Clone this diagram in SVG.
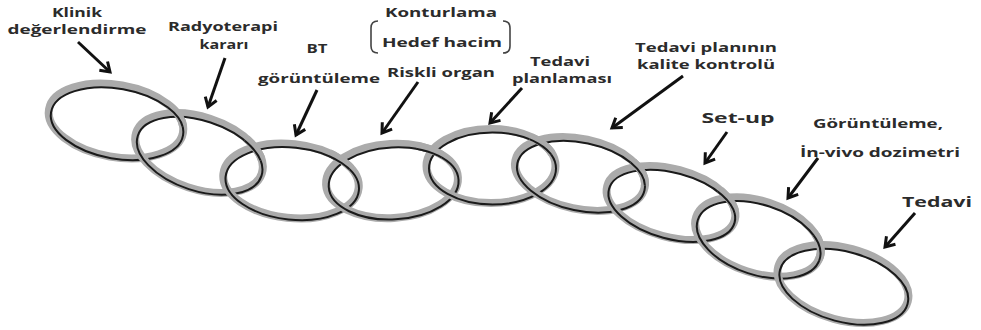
<svg xmlns="http://www.w3.org/2000/svg" width="981" height="330" viewBox="0 0 981 330">
<style>
.g{fill:none;stroke:#ababab;stroke-width:8}
.k{fill:none;stroke:#1a1a1a;stroke-width:2}
.t{font-family:"Open Sans","Liberation Sans",sans-serif;font-weight:bold;font-size:13px;fill:#2b2b2b;text-anchor:middle}
.big{font-size:15px}
.a{stroke:#111;stroke-width:3;fill:none}
</style>
<defs>
<marker id="ah" markerUnits="userSpaceOnUse" markerWidth="16" markerHeight="16" refX="12" refY="8" orient="auto" viewBox="0 0 16 16">
<path d="M3,2 L12,8 L3,14" fill="none" stroke="#111" stroke-width="3"/>
</marker>
<clipPath id="c12"><circle cx="181" cy="113" r="14"/></clipPath>
<clipPath id="c23"><circle cx="257" cy="147" r="14"/></clipPath>
<clipPath id="c34"><circle cx="343" cy="157" r="14"/></clipPath>
<clipPath id="c45"><circle cx="430" cy="150" r="14"/></clipPath>
<clipPath id="c56"><circle cx="543" cy="143" r="14"/></clipPath>
<clipPath id="c67"><circle cx="641" cy="172" r="14"/></clipPath>
<clipPath id="c78"><circle cx="729" cy="200" r="14"/></clipPath>
<clipPath id="c89"><circle cx="821" cy="247" r="14"/></clipPath>
</defs>
<rect width="981" height="330" fill="#fff"/>
<g id="rings">
<g id="ring1" transform="translate(116,121) rotate(10)"><ellipse class="g" rx="68" ry="36"/><ellipse class="k" cx="1.5" cy="2.5" rx="67" ry="35"/></g>
<g id="ring2" transform="translate(199,153) rotate(18)"><ellipse class="g" rx="66" ry="36"/><ellipse class="k" cx="1.5" cy="2.5" rx="65" ry="35"/></g>
<g id="ring3" transform="translate(291,181) rotate(6)"><ellipse class="g" rx="68" ry="37"/><ellipse class="k" cx="1.5" cy="2.5" rx="67" ry="36"/></g>
<g id="ring4" transform="translate(392,181) rotate(-3)"><ellipse class="g" rx="66" ry="37"/><ellipse class="k" cx="1.5" cy="2.5" rx="65" ry="36"/></g>
<g id="ring5" transform="translate(491,166) rotate(0)"><ellipse class="g" rx="64.5" ry="37"/><ellipse class="k" cx="1.5" cy="2.5" rx="63.5" ry="36"/></g>
<g id="ring6" transform="translate(580,174) rotate(12)"><ellipse class="g" rx="66" ry="35"/><ellipse class="k" cx="1.5" cy="2.5" rx="65" ry="34"/></g>
<g id="ring7" transform="translate(671,203) rotate(15)"><ellipse class="g" rx="66" ry="34"/><ellipse class="k" cx="1.5" cy="2.5" rx="65" ry="33"/></g>
<g id="ring8" transform="translate(758,237) rotate(18)"><ellipse class="g" rx="65" ry="36"/><ellipse class="k" cx="1.5" cy="2.5" rx="64" ry="35"/></g>
<g id="ring9" transform="translate(843,284) rotate(15)"><ellipse class="g" rx="67" ry="36"/><ellipse class="k" cx="1.5" cy="2.5" rx="66" ry="35"/></g>
<use href="#ring1" clip-path="url(#c12)"/>
<use href="#ring2" clip-path="url(#c23)"/>
<use href="#ring3" clip-path="url(#c34)"/>
<use href="#ring4" clip-path="url(#c45)"/>
<use href="#ring5" clip-path="url(#c56)"/>
<use href="#ring6" clip-path="url(#c67)"/>
<use href="#ring7" clip-path="url(#c78)"/>
<use href="#ring8" clip-path="url(#c89)"/>
</g>
<g id="labels">
<g id="lbl-klinik"><text class="t" x="77" y="17" textLength="50" lengthAdjust="spacingAndGlyphs">Klinik</text><text class="t" x="77" y="34" textLength="139" lengthAdjust="spacingAndGlyphs">değerlendirme</text></g>
<g id="lbl-radyo"><text class="t" x="223" y="31" textLength="110" lengthAdjust="spacingAndGlyphs">Radyoterapi</text><text class="t" x="224" y="49" textLength="49" lengthAdjust="spacingAndGlyphs">kararı</text></g>
<g id="lbl-bt"><text class="t" x="317" y="53" textLength="21" lengthAdjust="spacingAndGlyphs">BT</text><text class="t" x="319" y="83" textLength="122" lengthAdjust="spacingAndGlyphs">görüntüleme</text></g>
<g id="lbl-kontur"><text class="t" x="441" y="17" textLength="112" lengthAdjust="spacingAndGlyphs">Konturlama</text><text class="t" x="442" y="47" textLength="120" lengthAdjust="spacingAndGlyphs">Hedef hacim</text><text class="t" x="441" y="77" textLength="108" lengthAdjust="spacingAndGlyphs">Riskli organ</text>
<path d="M378,21 Q371,21 371,28 L371,46 Q371,53 378,53 M503,21 Q510,21 510,28 L510,46 Q510,53 503,53" fill="none" stroke="#444" stroke-width="1.6"/></g>
<g id="lbl-plan"><text class="t" x="560" y="66" textLength="60" lengthAdjust="spacingAndGlyphs">Tedavi</text><text class="t" x="562" y="83" textLength="100" lengthAdjust="spacingAndGlyphs">planlaması</text></g>
<g id="lbl-kalite"><text class="t" x="706" y="52" textLength="142" lengthAdjust="spacingAndGlyphs">Tedavi planının</text><text class="t" x="706" y="69" textLength="138" lengthAdjust="spacingAndGlyphs">kalite kontrolü</text></g>
<g id="lbl-setup"><text class="t big" x="738" y="123" textLength="73" lengthAdjust="spacingAndGlyphs">Set-up</text></g>
<g id="lbl-gor"><text class="t" x="878" y="128" textLength="130" lengthAdjust="spacingAndGlyphs">Görüntüleme,</text><text class="t" x="880" y="157" textLength="160" lengthAdjust="spacingAndGlyphs">İn-vivo dozimetri</text></g>
<g id="lbl-tedavi"><text class="t big" x="937" y="207" textLength="70" lengthAdjust="spacingAndGlyphs">Tedavi</text></g>
</g>
<g id="connectors">
<line class="a" x1="78" y1="42" x2="110" y2="72" marker-end="url(#ah)"/>
<line class="a" x1="225" y1="58" x2="208" y2="107" marker-end="url(#ah)"/>
<line class="a" x1="317" y1="90" x2="296" y2="135" marker-end="url(#ah)"/>
<line class="a" x1="418" y1="82" x2="382" y2="133" marker-end="url(#ah)"/>
<line class="a" x1="522" y1="88" x2="490" y2="123" marker-end="url(#ah)"/>
<line class="a" x1="683" y1="76" x2="612" y2="128" marker-end="url(#ah)"/>
<line class="a" x1="727" y1="132" x2="705" y2="163" marker-end="url(#ah)"/>
<line class="a" x1="818" y1="158" x2="788" y2="198" marker-end="url(#ah)"/>
<line class="a" x1="915" y1="213" x2="885" y2="247" marker-end="url(#ah)"/>
</g>
</svg>
